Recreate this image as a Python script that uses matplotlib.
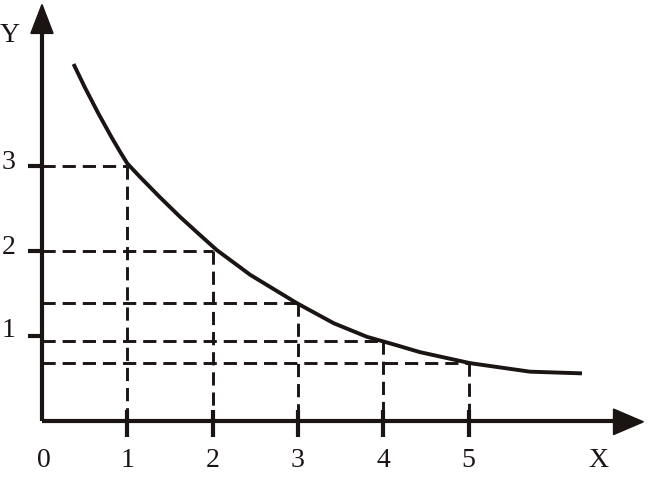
import matplotlib
matplotlib.use("Agg")
import matplotlib.pyplot as plt
from matplotlib.patches import Polygon

plt.rcParams['lines.scale_dashes'] = False

# curve
curve_x = [0.37, 0.50, 0.66, 0.82, 0.92, 1.0, 1.15, 1.38, 1.62, 1.85, 2.05, 2.32, 2.44,
           2.99, 3.42, 3.81, 4.16, 4.43, 5.02, 5.72, 6.33]
curve_y = [4.20, 3.93, 3.62, 3.33, 3.16, 3.03, 2.87, 2.635, 2.40, 2.19, 2.01, 1.81, 1.72,
           1.385, 1.15, 0.99, 0.89, 0.81, 0.68, 0.58, 0.56]

# marked points (dashed guides)
mark_x = [1, 2, 3, 4, 5]
mark_y = [3.0, 2.0, 1.39, 0.94, 0.68]

x_ticks = [1, 2, 3, 4, 5]
x_tick_labels = ["1", "2", "3", "4", "5"]
y_ticks = [1, 2, 3]
y_tick_labels = ["1", "2", "3"]

fig = plt.figure(figsize=(6.48, 4.78), dpi=100)
ax = fig.add_axes([0, 0, 1, 1])
ax.set_xlim(-0.492, 7.104)
ax.set_ylim(-0.671, 4.953)
ax.axis('off')

col = '#1a1413'
font = ['Liberation Serif', 'DejaVu Serif']

# dashed guides
for mx, my in zip(mark_x, mark_y):
    ax.plot([0, mx], [my, my], color=col, lw=2.1, dashes=(9.5, 5), dash_capstyle='butt')
    ax.plot([mx, mx], [my, 0], color=col, lw=2.1, dashes=(9.5, 5), dash_capstyle='butt')

# axes lines
ax.plot([0, 0], [0, 4.6], color=col, lw=3.0, solid_capstyle='butt')
ax.plot([0, 6.8], [0, 0], color=col, lw=3.0, solid_capstyle='butt')
# arrow heads
ax.add_patch(Polygon([[0, 4.90], [-0.13, 4.56], [0.13, 4.56]], closed=True, color=col))
ax.add_patch(Polygon([[7.05, -0.01], [6.70, 0.14], [6.70, -0.16]], closed=True, color=col))

# ticks
for tx in x_ticks:
    ax.plot([tx, tx], [0.13, -0.19], color=col, lw=3.0, solid_capstyle='butt')
for ty in y_ticks:
    ax.plot([-0.16, 0], [ty, ty], color=col, lw=3.0, solid_capstyle='butt')

# curve
ax.plot(curve_x, curve_y, color=col, lw=2.8, solid_capstyle='butt', solid_joinstyle='round')

# labels
fs = 20
for tx, tl in zip(x_ticks, x_tick_labels):
    ax.text(tx, -0.46, tl, ha='center', va='center', fontsize=fs, family=font, color=col)
ax.text(0.02, -0.46, "0", ha='center', va='center', fontsize=fs, family=font, color=col)
ax.text(6.52, -0.46, "X", ha='center', va='center', fontsize=fs, family=font, color=col)
label_y_pos = [1.07, 2.04, 3.04]
for ty, tl in zip(label_y_pos, y_tick_labels):
    ax.text(-0.39, ty, tl, ha='center', va='center', fontsize=fs, family=font, color=col)
ax.text(-0.375, 4.53, "Y", ha='center', va='center', fontsize=fs, family=font, color=col)

fig.savefig("out.png", dpi=100)
